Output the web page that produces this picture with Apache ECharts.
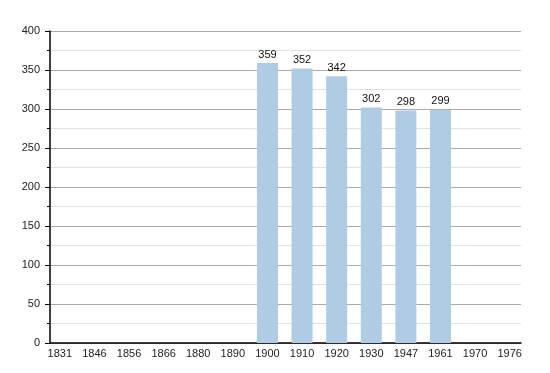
<!DOCTYPE html>
<html><head><meta charset="utf-8">
<script src="https://cdn.jsdelivr.net/npm/echarts@6/dist/echarts.min.js"></script>
<style>html,body{margin:0;padding:0;background:#fff}#c{width:550px;height:373px}</style>
</head><body><div id="c"></div>
<script>
var categories = ['1831','1846','1856','1866','1880','1890','1900','1910','1920','1930','1947','1961','1970','1976'];
var population = [null,null,null,null,null,null,359,352,342,302,298,299,null,null];
var yTicks = [0,50,100,150,200,250,300,350,400];

var chart = echarts.init(document.getElementById('c'));
var font = 'Liberation Sans, Arial, sans-serif';
chart.setOption({
  animation:false,
  grid:[
    {left:50, right:29, top:31, bottom:30},
    {left:42.5, width:484.5, top:31, bottom:30}
  ],
  xAxis:[
    {gridIndex:0, type:'category', data:categories, axisLine:{lineStyle:{color:'#000',width:1.5}}, axisTick:{show:false}, axisLabel:{show:false}, splitLine:{show:false}},
    {gridIndex:1, type:'category', data:categories, axisLine:{show:false}, axisTick:{show:false},
     axisLabel:{color:'#222', fontFamily:font, fontSize:11, margin:5, interval:0}}
  ],
  yAxis:[
    {gridIndex:0, type:'value', min:yTicks[0], max:yTicks[yTicks.length-1], interval:50,
     axisLine:{show:true, lineStyle:{color:'#000', width:1.5}},
     axisTick:{show:true, length:5, lineStyle:{color:'#000'}},
     minorTick:{show:true, splitNumber:2, length:3, lineStyle:{color:'#000'}},
     splitLine:{show:true, lineStyle:{color:'#aaa', width:1}},
     minorSplitLine:{show:true, lineStyle:{color:'#e2e2e2', width:1}},
     axisLabel:{color:'#222', fontFamily:font, fontSize:11, margin:10}},
    {gridIndex:1, type:'value', min:yTicks[0], max:yTicks[yTicks.length-1], show:false, splitLine:{show:false}}
  ],
  series:[{
    type:'bar', xAxisIndex:1, yAxisIndex:1, data:population, barWidth:21,
    itemStyle:{color:'#b0cbe4'},
    label:{show:true, position:'top', distance:3, color:'#111', fontFamily:font, fontSize:11}
  }]
});
</script></body></html>
